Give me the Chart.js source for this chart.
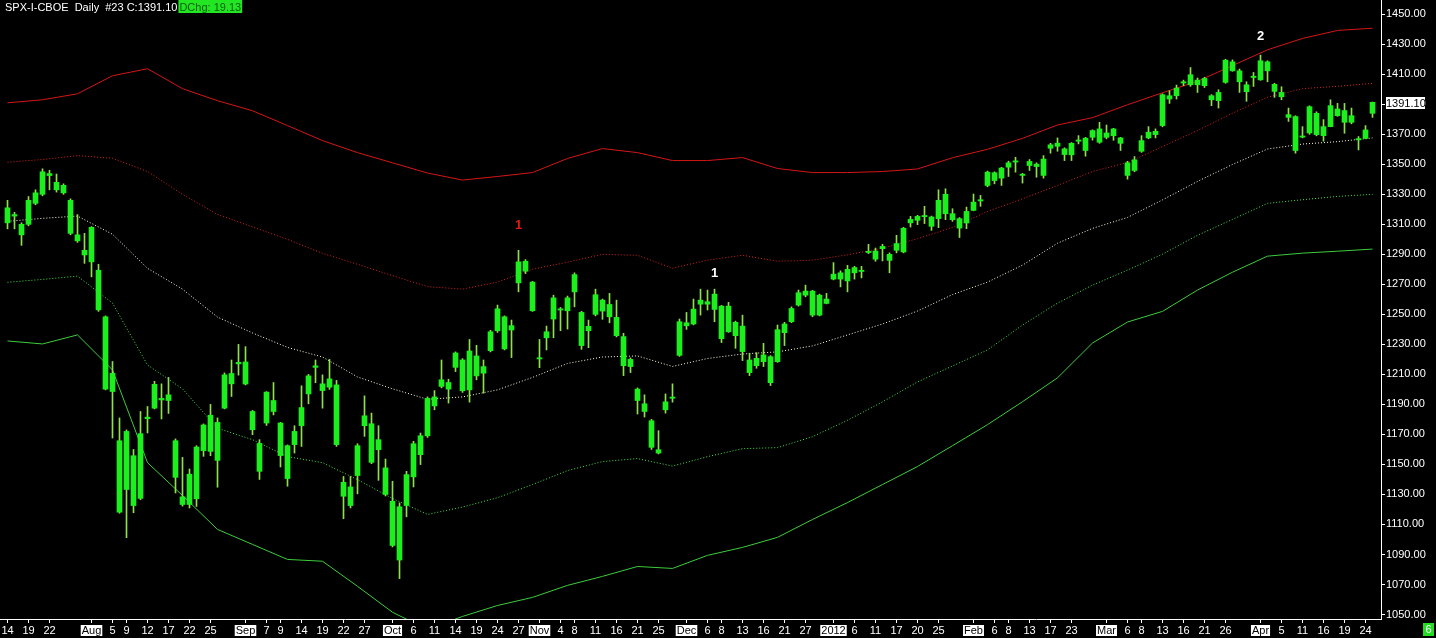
<!DOCTYPE html>
<html>
<head>
<meta charset="utf-8">
<script src="https://cdn.jsdelivr.net/npm/chart.js@4.4.0/dist/chart.umd.min.js"></script>
<style>
  html, body { margin: 0; padding: 0; background: #000; overflow: hidden; }
  canvas { display: block; }
</style>
</head>
<body>
<canvas id="chart" width="1436" height="638"></canvas>
<script>
// Candles, one per trading day (index 0 = Jul 14 2011 ... 195 = Apr 25 2012)
const bodyLow = [
  1311, 1315.5, 1303, 1310, 1324, 1330, 1342.5, 1333, 1331, 1304,
  1299, 1289.6, 1285, 1253, 1200.2, 1198.6, 1118.2, 1133.3, 1122.6, 1127.4,
  1180.5, 1187.5, 1193, 1192.6, 1141.4, 1123.3, 1123.3, 1127.1, 1159.2, 1158.7,
  1152.7, 1187.5, 1203.7, 1217, 1203.6, 1173.1, 1145.4, 1177.6, 1185.3, 1155.9,
  1140.6, 1163.2, 1175.8, 1197, 1214.7, 1199.2, 1201.5, 1163.2, 1128.8, 1122.6,
  1142.6, 1175.8, 1151.4, 1159.8, 1130, 1096, 1086.3, 1122.6, 1141.7, 1156.5,
  1169.1, 1189, 1202, 1200.2, 1214.7, 1199.1, 1199.7, 1209, 1210.8, 1225.8,
  1239.1, 1227, 1239.6, 1271, 1278.8, 1252.4, 1220.3, 1234.4, 1246.9, 1252.9,
  1252.4, 1265, 1229.2, 1239.1, 1250, 1252.2, 1248.4, 1235.8, 1215.8, 1215.2,
  1192.6, 1185.3, 1161.4, 1157.6, 1186.4, 1194.1, 1222.7, 1242.4, 1243.6, 1256.8,
  1256.8, 1253.3, 1233.8, 1238.4, 1235.8, 1225.2, 1211.2, 1215.8, 1218.5, 1204.5,
  1218.5, 1237.8, 1245.1, 1256.2, 1262.8, 1249.5, 1249.5, 1257.3, 1273.5, 1273.5,
  1272.3, 1277.7, 1278.6, 1291.2, 1286.8, 1293.8, 1286, 1292.7, 1291.6, 1311,
  1312.7, 1315.1, 1308.7, 1313.8, 1317.1, 1313.1, 1307.5, 1310.9, 1319.3, 1325.6,
  1335.9, 1339.2, 1340.8, 1348.1, 1351.5, 1342.6, 1349.2, 1348.5, 1342.6, 1360.7,
  1362, 1356.5, 1356.3, 1365.4, 1359.2, 1368, 1364.7, 1368, 1369.1, 1364,
  1342.6, 1345.9, 1358.7, 1367.6, 1369.8, 1375.8, 1393.5, 1395.7, 1404.2, 1403,
  1403, 1402.4, 1393, 1392.4, 1404.6, 1412.3, 1405, 1398.4, 1407.9, 1406.3,
  1412.3, 1398.6, 1395, 1381.3, 1359.2, 1368.1, 1370.9, 1369.8, 1369.1, 1375.1,
  1382.4, 1378, 1378, 1366.3, 1367.3, 1384
];
const bodyHigh = [
  1321, 1316.5, 1310, 1326, 1331, 1345, 1343.8, 1338, 1336, 1326,
  1303, 1292.7, 1308, 1279.4, 1248.4, 1210.7, 1165.8, 1172, 1155.8, 1170.5,
  1181.5, 1203.4, 1194, 1196.4, 1165.8, 1128.4, 1143.5, 1161.6, 1176.3, 1182.8,
  1178, 1209.7, 1210.6, 1218, 1218.3, 1185.3, 1164, 1198.2, 1192.6, 1177.6,
  1162.5, 1172, 1187.9, 1209, 1215.7, 1203.7, 1207, 1203, 1138.1, 1135,
  1162.5, 1182.4, 1177.1, 1166.5, 1147.7, 1125.5, 1121.8, 1143.2, 1163.8, 1169.1,
  1194, 1195, 1206.4, 1204.6, 1224.3, 1219.6, 1225.6, 1222.3, 1215.2, 1238.4,
  1253.7, 1248.4, 1242.5, 1285, 1285.4, 1271.5, 1221.1, 1238.4, 1261, 1253.7,
  1261, 1276.5, 1251.3, 1242, 1263.1, 1259.5, 1256.6, 1248, 1235.2, 1220,
  1200.2, 1190.4, 1179.1, 1159.8, 1191.7, 1194.9, 1245.1, 1244.4, 1253.5, 1259.5,
  1258.4, 1263.5, 1255.5, 1255.5, 1244.7, 1242.2, 1219.6, 1220.7, 1223, 1221.8,
  1239.8, 1243.6, 1253.9, 1264.4, 1265.5, 1265.5, 1262.8, 1260.2, 1276.8, 1277.7,
  1280, 1281.2, 1279.4, 1292, 1292.2, 1295.3, 1290, 1297.2, 1307.4, 1313.3,
  1315.3, 1315.9, 1314.9, 1326, 1330, 1317.1, 1313.8, 1318.6, 1324.8, 1326.4,
  1344.8, 1344.4, 1347.5, 1351, 1352.3, 1343.4, 1351.9, 1350.1, 1353.5, 1363,
  1364.1, 1360.3, 1364, 1366.2, 1367.4, 1372.5, 1373.6, 1370.9, 1373.6, 1367.6,
  1351, 1353, 1365.8, 1371.4, 1372, 1396.4, 1395.7, 1400.8, 1405, 1409.7,
  1406.1, 1407.2, 1395.7, 1397.9, 1419.4, 1418.3, 1412.3, 1403, 1408.7, 1419,
  1418.3, 1403.3, 1397.9, 1383.1, 1381.8, 1368.9, 1388.4, 1384, 1375.1, 1389.1,
  1386.9, 1385.8, 1382.4, 1367.1, 1372.9, 1391.3
];
const lows = [
  1307, 1307, 1296, 1309, 1323, 1329, 1333, 1331.5, 1330, 1303,
  1298, 1284, 1275, 1252, 1199.7, 1167.6, 1117.5, 1101.2, 1117.8, 1126.5,
  1171, 1187, 1180.3, 1184, 1131, 1122.2, 1121, 1122, 1155.4, 1155.8,
  1134.8, 1187, 1195.3, 1209.5, 1203, 1169.8, 1140, 1176, 1183, 1148.3,
  1135.5, 1157.6, 1162, 1190.4, 1204.5, 1187.5, 1200, 1162, 1113.8, 1121,
  1130.4, 1168.7, 1150.5, 1139.4, 1129, 1095, 1073.9, 1115.1, 1135, 1149.9,
  1168, 1186.4, 1201, 1190.9, 1211.9, 1198, 1191.5, 1206.4, 1197.5, 1225,
  1238, 1226.3, 1221.2, 1265, 1277.2, 1252, 1214.5, 1226.3, 1234.4, 1239.1,
  1240.2, 1255, 1226.7, 1227.8, 1249, 1246.7, 1244.4, 1235, 1209.2, 1211.2,
  1183.6, 1181.6, 1160, 1157, 1184.2, 1191.5, 1222, 1240, 1243, 1249.5,
  1252.9, 1245.1, 1231.2, 1238, 1227.4, 1219.2, 1209.2, 1214.1, 1215.2, 1202.6,
  1218, 1229.2, 1244.5, 1255.5, 1261.7, 1248.4, 1249, 1257, 1273, 1268.3,
  1265, 1273.5, 1274.3, 1290.5, 1285.4, 1285.6, 1277.7, 1291, 1291, 1308.2,
  1309.8, 1310.5, 1306, 1307.8, 1313.1, 1312, 1301.2, 1307.1, 1319, 1322,
  1335, 1337, 1335.9, 1341.9, 1344.8, 1337.5, 1345.9, 1341.4, 1340.8, 1357.4,
  1358.7, 1352.5, 1352.5, 1363.6, 1355.4, 1366.1, 1364, 1367, 1366, 1359.2,
  1340.1, 1345, 1358, 1367, 1367.6, 1375, 1390.6, 1393.5, 1402.4, 1402,
  1397.9, 1401.2, 1389.1, 1387.5, 1404, 1412, 1397.9, 1392, 1401.9, 1406,
  1405, 1394.6, 1393, 1378.6, 1357.4, 1367.6, 1370, 1369, 1365.4, 1375,
  1382, 1370.7, 1377, 1359.6, 1367, 1381.3
];
const highs = [
  1326, 1318, 1311, 1328.5, 1333, 1347, 1346, 1343.5, 1337, 1327,
  1316.5, 1304, 1308.5, 1283.4, 1249, 1218.6, 1181, 1173, 1160, 1185.3,
  1188.6, 1205.4, 1203.7, 1208, 1167, 1154.7, 1147, 1162.5, 1177, 1190,
  1181, 1211, 1219.6, 1230, 1228.5, 1186, 1166.5, 1198.5, 1204.6, 1178,
  1163, 1175.8, 1202.4, 1210, 1219.6, 1209.7, 1220, 1206, 1142, 1142,
  1163.8, 1195.7, 1184.2, 1175.8, 1153.6, 1138.8, 1124.4, 1145.4, 1165.4, 1170.9,
  1195, 1199.2, 1219.6, 1206.8, 1225, 1220.5, 1233.3, 1229.4, 1219.6, 1239.4,
  1256.2, 1249, 1246.2, 1292.7, 1286.5, 1272, 1233.3, 1242.2, 1262.8, 1254.6,
  1262.2, 1277.7, 1252, 1246.2, 1266.8, 1260.2, 1264, 1259.5, 1237.4, 1221,
  1201, 1196.4, 1180, 1172.5, 1197, 1203.7, 1246.9, 1251.3, 1260.2, 1266.8,
  1266.2, 1266.8, 1256, 1258, 1245.5, 1249.5, 1224.1, 1224.5, 1230.7, 1222.5,
  1242.9, 1244.7, 1255, 1266.2, 1269.5, 1266, 1263.5, 1264, 1284.5, 1279,
  1282.7, 1282, 1282, 1296.7, 1294.2, 1296.7, 1291, 1302.7, 1308, 1315.3,
  1316, 1322, 1315.5, 1333, 1333.7, 1320.4, 1314.5, 1321.5, 1330.2, 1329.3,
  1345.5, 1345, 1348, 1352.1, 1354.7, 1344, 1353.2, 1351, 1355.8, 1364,
  1367.6, 1361, 1364.5, 1369.1, 1368, 1373, 1378, 1376.2, 1374, 1368,
  1352, 1355.2, 1369.1, 1375.1, 1373.6, 1397, 1399, 1402.8, 1406.1, 1414.5,
  1407.5, 1408, 1396.4, 1399.7, 1420, 1419.6, 1413.5, 1405, 1411.2, 1422.8,
  1419, 1404, 1401.7, 1387.5, 1382.4, 1375.1, 1389, 1385, 1379.8, 1393,
  1390.6, 1390.6, 1387.5, 1368.5, 1375.8, 1391.5
];

// Envelope lines, read every 5th trading day
const bandDays = [0, 5, 10, 15, 20, 25, 30, 35, 40, 45, 50, 55, 60, 65, 70, 75, 80, 85, 90, 95,
  100, 105, 110, 115, 120, 125, 130, 135, 140, 145, 150, 155, 160, 165, 170, 175, 180, 185, 190, 195];
const upperOuter = [1391, 1393, 1397, 1409, 1413.7, 1400.4, 1392.4, 1385.7, 1375.8, 1365.8,
  1357.8, 1351, 1344.2, 1339.5, 1341.9, 1344.5, 1353.9, 1360.5, 1357.8, 1352.5,
  1352.5, 1354.5, 1347.2, 1344.5, 1344.5, 1345.2, 1346.9, 1354.4, 1360, 1367.3,
  1376.2, 1381.1, 1389.7, 1397.7, 1405.3, 1415.8, 1426.3, 1433.9, 1439.2, 1440.7];
const upperInner = [1351.4, 1353.2, 1355.8, 1354, 1345.2, 1330, 1316.6, 1308.3, 1300, 1290.7,
  1283.4, 1275.8, 1268.5, 1266.8, 1271.5, 1280.1, 1284.8, 1290, 1289.4, 1280.8,
  1286.1, 1289.4, 1285.4, 1286.1, 1289.7, 1294.1, 1300.4, 1308, 1318.6, 1327,
  1335.9, 1345.2, 1351.2, 1361.8, 1372.5, 1384.1, 1394.7, 1400.4, 1402, 1403.9];
const middle = [1312, 1314, 1315.5, 1303.4, 1280.7, 1266.8, 1248.2, 1237.6, 1228, 1221.6,
  1208.3, 1200.4, 1193.4, 1195, 1199.7, 1208, 1217.3, 1221.6, 1222.3, 1215.3,
  1220.6, 1223.6, 1225, 1229, 1236.3, 1243.6, 1252.2, 1263.2, 1271.5, 1282.8,
  1297.4, 1307.3, 1314.6, 1326.3, 1338.6, 1349.9, 1360.2, 1363.5, 1365.1, 1367.6];
const lowerInner = [1271.4, 1273.3, 1275.5, 1257.5, 1216.3, 1200.4, 1174.1, 1166.5, 1155.2, 1151.2,
  1139.9, 1127.3, 1116.7, 1121.6, 1127.8, 1136.6, 1145.9, 1151.9, 1153.9, 1148.9,
  1155.2, 1160.5, 1161.2, 1168.5, 1179.4, 1191.7, 1205, 1215.6, 1226.3, 1242.9,
  1257.5, 1269.5, 1279.5, 1290.1, 1302.7, 1313.3, 1324, 1326.4, 1328.6, 1330];
const lowerOuter = [1232.3, 1230.3, 1236.3, 1213, 1151.2, 1129.3, 1106.7, 1096.7, 1086.7, 1085.5,
  1068.8, 1051.5, 1040, 1048.7, 1056, 1061.4, 1069.4, 1075.4, 1082, 1080.7,
  1089.4, 1094.7, 1101.4, 1113.3, 1124.6, 1136.6, 1148.6, 1162.5, 1176.5, 1191.8,
  1207.7, 1230.9, 1244.9, 1252, 1266.2, 1278.1, 1288.8, 1290.8, 1292.1, 1293.5];

// Date axis labels
const tickDays = [0, 3, 6, 12, 15, 17, 20, 23, 26, 29, 34, 37, 39, 42, 45, 48, 51, 55, 58, 61, 64, 67, 70, 73,
  76, 79, 81, 84, 87, 90, 93, 97, 100, 102, 105, 108, 111, 114, 118, 121, 124, 127, 130, 133,
  138, 141, 143, 146, 149, 152, 157, 160, 162, 165, 168, 171, 174, 179, 182, 185, 188, 191, 194];
const tickText = ['14', '19', '22', 'Aug', '5', '9', '12', '17', '22', '25', 'Sep', '7', '9', '14', '19', '22', '27',
  'Oct', '6', '11', '14', '19', '24', '27', 'Nov', '4', '8', '11', '16', '21', '25',
  'Dec', '6', '8', '13', '16', '21', '27', '2012', '6', '11', '17', '20', '25',
  'Feb', '6', '8', '13', '17', '23', 'Mar', '6', '8', '13', '16', '21', '26',
  'Apr', '5', '11', '16', '19', '24'];
const monthNames = ['Aug', 'Sep', 'Oct', 'Nov', 'Dec', '2012', 'Feb', 'Mar', 'Apr'];

// Price axis
const priceTicks = [];
for (let p = 1050; p <= 1450; p += 10) priceTicks.push(p);

// Header and marks
const lastClose = 1391.10;
const dayChange = 19.13;
const markDays = [73, 101, 179];
const markPrices = [1309, 1277, 1435];
const markText = ['1', '1', '2'];
const markColors = ['#e01818', '#ffffff', '#ffffff'];

const FONT = '"Liberation Sans", Arial, sans-serif';

const bodyData = bodyLow.map((v, i) => ({ x: i, y: [v, Math.max(bodyHigh[i], v + 0.7)] }));
const wickData = lows.map((v, i) => ({ x: i, y: [v, highs[i]] }));
const band = arr => arr.map((v, i) => ({ x: bandDays[i], y: v }));

// Draws header text, the last-price tag, the wave marks and the corner box
const overlayPlugin = {
  id: 'overlay',
  afterDraw(chart) {
    const ctx = chart.ctx;
    const xs = chart.scales.x;
    const ys = chart.scales.y;
    ctx.save();

    // header
    ctx.font = '11px ' + FONT;
    ctx.textBaseline = 'alphabetic';
    ctx.textAlign = 'left';
    const head = 'SPX-I-CBOE  Daily  #23 C:' + lastClose.toFixed(2);
    ctx.fillStyle = '#ffffff';
    ctx.fillText(head, 5, 11);
    const hw = ctx.measureText(head).width + 2;
    const chg = 'DChg: ' + dayChange.toFixed(2);
    const cw = ctx.measureText(chg).width;
    ctx.fillStyle = '#22e622';
    ctx.fillRect(5 + hw - 1, 0, cw + 2, 13);
    ctx.fillStyle = '#0b5e0b';
    ctx.fillText(chg, 5 + hw, 11);

    // wave marks
    ctx.font = 'bold 13px ' + FONT;
    ctx.textAlign = 'center';
    ctx.textBaseline = 'middle';
    markDays.forEach((d, i) => {
      ctx.fillStyle = markColors[i];
      ctx.fillText(markText[i], xs.getPixelForValue(d), ys.getPixelForValue(markPrices[i]));
    });

    // last price tag on the price axis
    const py = Math.round(ys.getPixelForValue(lastClose));
    ctx.fillStyle = '#ffffff';
    ctx.fillRect(1386, py - 6, 39, 12);
    ctx.fillStyle = '#000000';
    ctx.font = '11px ' + FONT;
    ctx.textAlign = 'left';
    ctx.fillText(lastClose.toFixed(2), 1386, py + 0.5);

    // corner box
    ctx.fillStyle = '#22dd22';
    ctx.fillRect(1423, 623, 11, 13);
    ctx.fillStyle = '#ffffff';
    ctx.textAlign = 'center';
    ctx.fillText('6', 1428.5, 630);
    ctx.restore();
  }
};

new Chart(document.getElementById('chart'), {
  type: 'bar',
  data: {
    datasets: [
      { type: 'line', data: band(upperOuter), borderColor: '#d41616', borderWidth: 1, pointRadius: 0, order: 5 },
      { type: 'line', data: band(upperInner), borderColor: '#d82222', borderWidth: 1, borderDash: [1, 2], pointRadius: 0, order: 5 },
      { type: 'line', data: band(middle), borderColor: '#ffffe0', borderWidth: 1, borderDash: [1, 2], pointRadius: 0, order: 5 },
      { type: 'line', data: band(lowerInner), borderColor: '#44e644', borderWidth: 1, borderDash: [1, 2], pointRadius: 0, order: 5 },
      { type: 'line', data: band(lowerOuter), borderColor: '#3ccc3c', borderWidth: 1, pointRadius: 0, order: 5 },
      { data: wickData, backgroundColor: '#8ee04c', barThickness: 1, grouped: false, order: 2 },
      { data: bodyData, backgroundColor: '#1cf01c', barThickness: 5, grouped: false, order: 1 }
    ]
  },
  options: {
    responsive: false,
    animation: false,
    events: [],
    layout: { padding: 0 },
    plugins: { legend: { display: false }, tooltip: { enabled: false } },
    scales: {
      x: {
        type: 'linear',
        offset: false,
        bounds: 'data',
        min: -1.0714,
        max: 196.2143,
        afterBuildTicks: s => { s.ticks = tickDays.map(v => ({ value: v })); },
        afterFit: s => { s.height = 19; s.paddingLeft = 0; s.paddingRight = 0; },
        grid: { offset: false, drawOnChartArea: false, drawTicks: true, tickLength: 4, color: '#ffffff' },
        border: { color: '#ffffff' },
        ticks: {
          autoSkip: false,
          maxRotation: 0,
          padding: 2,
          font: { family: FONT, size: 11, lineHeight: 1 },
          callback: (v, i) => tickText[i],
          color: c => monthNames.includes(tickText[c.index]) ? '#000000' : '#ffffff',
          showLabelBackdrop: true,
          backdropColor: c => monthNames.includes(tickText[c.index]) ? '#ffffff' : 'rgba(0,0,0,0)',
          backdropPadding: { top: 0, bottom: 0, left: 1, right: 1 }
        }
      },
      y: {
        position: 'right',
        bounds: 'data',
        min: 1047,
        max: 1459.5,
        afterBuildTicks: s => { s.ticks = priceTicks.map(v => ({ value: v })); },
        afterFit: s => { s.width = 55; s.paddingTop = 0; s.paddingBottom = 0; },
        grid: { drawOnChartArea: false, drawTicks: true, tickLength: 4, color: '#ffffff' },
        border: { color: '#ffffff' },
        ticks: {
          padding: 1,
          color: '#ffffff',
          font: { family: FONT, size: 11 },
          callback: v => v.toFixed(2)
        }
      }
    }
  },
  plugins: [overlayPlugin]
});
</script>
</body>
</html>
